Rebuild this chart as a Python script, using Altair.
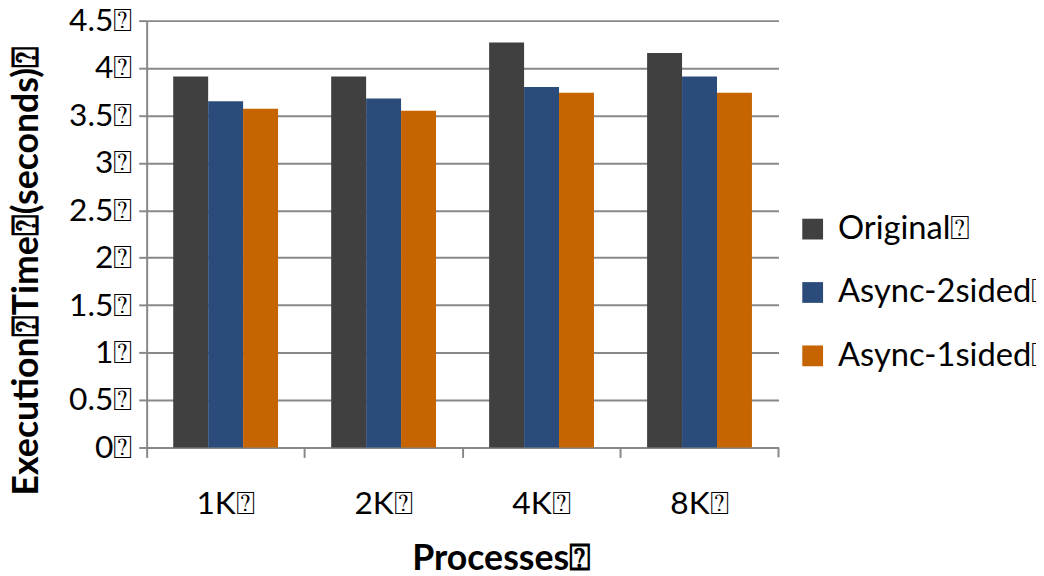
import altair as alt
import pandas as pd

categories = ["1K", "2K", "4K", "8K"]
series = ["Original", "Async-2sided", "Async-1sided"]
original = [3.91, 3.91, 4.27, 4.16]
async2 = [3.65, 3.68, 3.80, 3.91]
async1 = [3.57, 3.55, 3.74, 3.74]
colors = ["#404040", "#2b4c7b", "#c56400"]
box = "\u2370"

rows = []
for vals, s in zip([original, async2, async1], series):
    for c, v in zip(categories, vals):
        rows.append({"proc": c, "series": s, "time": v})
df = pd.DataFrame(rows)

W, H = 638, 431
FONT = "Lato"

bars = alt.Chart(df).mark_bar().encode(
    x=alt.X("proc:N", sort=categories,
            scale=alt.Scale(paddingInner=0, paddingOuter=0),
            axis=alt.Axis(title="Processes" + box, labelAngle=0,
                          labelExpr=f"datum.label + '{box}'",
                          bandPosition=0, tickSize=10, labelPadding=32,
                          titlePadding=22, titleX=358, grid=False)),
    xOffset=alt.XOffset("series:N", sort=series,
                        scale=alt.Scale(paddingInner=0, paddingOuter=0.76)),
    y=alt.Y("time:Q", scale=alt.Scale(domain=[0, 4.5], nice=False),
            axis=alt.Axis(title="Execution" + box + "Time" + box + "(seconds)" + box,
                          values=[0, 0.5, 1, 1.5, 2, 2.5, 3, 3.5, 4, 4.5],
                          labelExpr=f"format(datum.value, '~g') + '{box}'",
                          tickSize=8, labelPadding=7,
                          titleX=-102, titleY=252, titleAlign="center")),
    color=alt.Color("series:N", sort=series,
                    scale=alt.Scale(domain=series, range=colors),
                    legend=alt.Legend(title=None, labelExpr=f"datum.label + '{box}'",
                                      symbolType="square", symbolSize=440,
                                      symbolStrokeWidth=0, rowPadding=30,
                                      orient="none", legendX=656, legendY=194,
                                      labelFontSize=33, labelFont=FONT,
                                      labelOffset=9, labelLimit=400)),
)

endtick = alt.Chart(pd.DataFrame({"a": [0]})).mark_rule(color="#888888", strokeWidth=2).encode(
    x=alt.value(W), y=alt.value(H), y2=alt.value(H + 10)
)

chart = (bars + endtick).properties(
    width=W, height=H,
    autosize=alt.AutoSizeParams(type="none"),
    padding={"left": 140, "top": 10, "right": 260, "bottom": 125},
).configure_view(
    stroke=None
).configure_axis(
    domainColor="#888888", domainWidth=2, tickColor="#888888", tickWidth=2,
    gridColor="#888888", gridWidth=2,
    labelFont=FONT, labelFontSize=32, labelColor="#000000",
    titleFont=FONT, titleFontSize=36, titleFontWeight="bold", titleColor="#000000",
).configure_legend(
    labelColor="#000000"
)

chart.save("out.html", embed_options={"renderer": "svg", "actions": False})
